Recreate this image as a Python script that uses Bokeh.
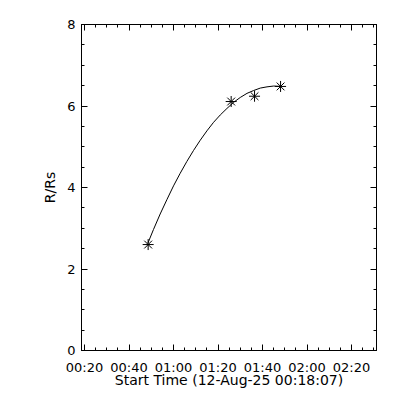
from bokeh.plotting import figure
from bokeh.models import FixedTicker, LinearAxis, Range1d, CustomLabelingPolicy
from bokeh.embed import file_html
from bokeh.resources import INLINE

# Time in minutes after 00:00 UT (12-Aug-25)
obs_time = [48.6, 85.9, 96.4, 108.1]
obs_r = [2.60, 6.11, 6.24, 6.48]

# Fitted curve
fit_time = [48.45, 51, 54, 57, 60, 63, 66, 69, 72, 75, 78, 81, 84, 87, 90, 93, 96, 99, 102, 105, 108.1]
fit_r = [2.63, 2.97, 3.35, 3.70, 4.04, 4.35, 4.64, 4.91, 5.16, 5.39, 5.60, 5.78, 5.94, 6.09, 6.21,
         6.31, 6.38, 6.44, 6.47, 6.49, 6.48]

x_ticks = [20, 40, 60, 80, 100, 120, 140]
x_tick_labels = ["00:20", "00:40", "01:00", "01:20", "01:40", "02:00", "02:20"]
y_ticks = [0, 2, 4, 6, 8]

x_start, x_end = 18.65, 151.2
y_start, y_end = 0, 8

FONT = "DejaVu Sans"
FS = "13px"

p = figure(frame_width=295, frame_height=326, output_backend="svg", toolbar_location=None,
           x_range=Range1d(x_start, x_end), y_range=Range1d(y_start, y_end),
           min_border_left=81, min_border_top=24, min_border_right=16, min_border_bottom=42,
           x_axis_label="Start Time (12-Aug-25 00:18:07)", y_axis_label="R/Rs")
p.grid.visible = False
p.outline_line_color = "black"
p.outline_line_width = 1
p.background_fill_color = "white"
p.border_fill_color = "white"

x_minor = [float(v) for v in range(15, 155, 5)]
y_minor = [v * 0.5 for v in range(0, 17)]

xt = FixedTicker(ticks=x_ticks, minor_ticks=x_minor)
yt = FixedTicker(ticks=y_ticks, minor_ticks=y_minor)

def style(ax):
    ax.axis_line_color = "black"
    ax.major_tick_line_color = "black"
    ax.minor_tick_line_color = "black"
    ax.major_tick_in = 6
    ax.major_tick_out = 0
    ax.minor_tick_in = 3
    ax.minor_tick_out = 0
    ax.major_label_text_font = FONT
    ax.major_label_text_font_size = FS
    ax.major_label_text_color = "black"
    ax.axis_label_text_font = FONT
    ax.axis_label_text_font_size = "14px"
    ax.axis_label_text_font_style = "normal"
    ax.axis_label_text_color = "black"

xa = p.xaxis[0]
xa.ticker = xt
xa.major_label_overrides = {float(t): l for t, l in zip(x_ticks, x_tick_labels)}
style(xa)
xa.major_label_standoff = 9
xa.axis_label_standoff = -6

ya = p.yaxis[0]
ya.ticker = yt
style(ya)
ya.major_label_standoff = 6
ya.axis_label_standoff = 6

hide_all = CustomLabelingPolicy(code="""
const n = indices.size
for (let i = 0; i < n; i++) indices.unset(i)
return indices
""")

top = LinearAxis(ticker=xt, major_label_policy=hide_all)
style(top)
top.major_label_standoff = 0
p.add_layout(top, "above")
right = LinearAxis(ticker=yt, major_label_policy=hide_all)
style(right)
right.major_label_standoff = 0
p.add_layout(right, "right")

p.line(fit_time, fit_r, line_color="black", line_width=1)
p.scatter(obs_time, obs_r, marker="asterisk", size=11, line_color="black", line_width=1)

open("out.html", "w").write(file_html(p, INLINE))
